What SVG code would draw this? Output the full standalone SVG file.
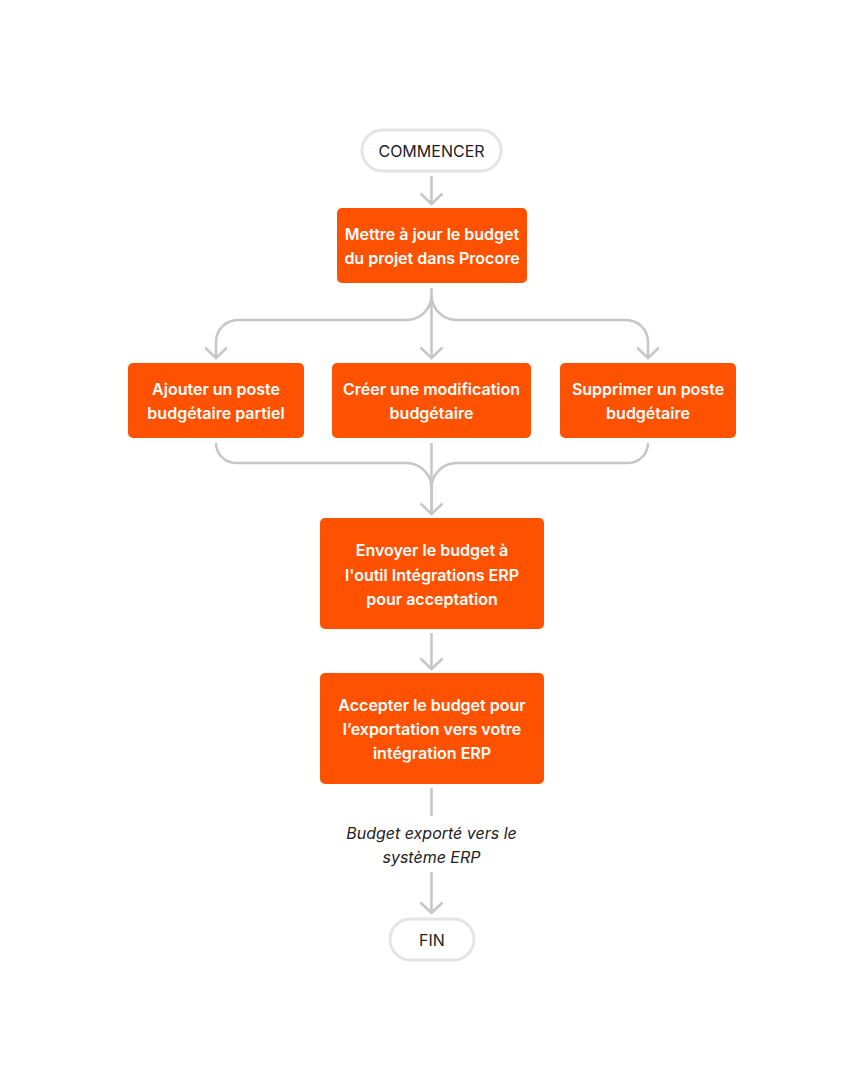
<svg xmlns="http://www.w3.org/2000/svg" width="864" height="1091" viewBox="0 0 864 1091">
<defs>
<style>
.box{fill:#FF5200;}
.pill{fill:#fff;stroke:#e4e4e4;stroke-width:3;}
.wt{fill:#fff;font-family:Inter,"Liberation Sans",sans-serif;font-weight:600;font-size:16px;text-anchor:middle;dominant-baseline:central;}
.dt{fill:#222;font-family:Inter,"Liberation Sans",sans-serif;font-size:16px;text-anchor:middle;dominant-baseline:central;}
.it{fill:#222;font-family:Inter,"Liberation Sans",sans-serif;font-style:italic;font-size:16px;text-anchor:middle;dominant-baseline:central;}
.c{fill:none;stroke:#c6c6c6;stroke-width:2.5;}
</style>
<marker id="ah" markerUnits="userSpaceOnUse" markerWidth="14" markerHeight="26" viewBox="0 0 14 26" refX="12" refY="13" orient="auto">
<path d="M1.5,2 L12,13 L1.5,24" fill="none" stroke="#c6c6c6" stroke-width="2.5"/>
</marker>
</defs>
<rect width="864" height="1091" fill="#fff"/>
<g id="connectors">
<path class="c" d="M431.5 176 V204" marker-end="url(#ah)"/>
<path class="c" d="M431.5 288 V358" marker-end="url(#ah)"/>
<path class="c" d="M431.5 295 A25 25 0 0 1 406.5 320 H238 A22 22 0 0 0 216 342 V358" marker-end="url(#ah)"/>
<path class="c" d="M431.5 295 A25 25 0 0 0 456.5 320 H626 A22 22 0 0 1 648 342 V358" marker-end="url(#ah)"/>
<path class="c" d="M216 443 A20 20 0 0 0 236 463 H406.5 A25 25 0 0 1 431.5 488 V514" marker-end="url(#ah)"/>
<path class="c" d="M648 443 A20 20 0 0 1 628 463 H456.5 A25 25 0 0 0 431.5 488"/>
<path class="c" d="M431.5 443 V514"/>
<path class="c" d="M431.5 633 V669" marker-end="url(#ah)"/>
<path class="c" d="M431.5 788 V816"/>
<path class="c" d="M431.5 872 V913" marker-end="url(#ah)"/>
<text class="it" x="431.5" y="833">Budget exporté vers le</text>
<text class="it" x="431.5" y="857">système ERP</text>
</g>
<g id="start">
<rect class="pill" x="362" y="130" width="139" height="41" rx="20.5"/>
<text class="dt" x="431.5" y="151">COMMENCER</text>
</g>
<g id="n1">
<rect class="box" x="337" y="208" width="190" height="75" rx="5"/>
<text class="wt" x="432" y="234">Mettre à jour le budget</text>
<text class="wt" x="432" y="258">du projet dans Procore</text>
</g>
<g id="n2">
<rect class="box" x="128" y="363" width="176" height="75" rx="5"/>
<text class="wt" x="216" y="389">Ajouter un poste</text>
<text class="wt" x="216" y="413">budgétaire partiel</text>
</g>
<g id="n3">
<rect class="box" x="332" y="363" width="199" height="75" rx="5"/>
<text class="wt" x="431.5" y="389">Créer une modification</text>
<text class="wt" x="431.5" y="413">budgétaire</text>
</g>
<g id="n4">
<rect class="box" x="560" y="363" width="176" height="75" rx="5"/>
<text class="wt" x="648" y="389">Supprimer un poste</text>
<text class="wt" x="648" y="413">budgétaire</text>
</g>
<g id="n5">
<rect class="box" x="320" y="518" width="224" height="111" rx="5"/>
<text class="wt" x="432" y="550">Envoyer le budget à</text>
<text class="wt" x="432" y="575">l'outil Intégrations ERP</text>
<text class="wt" x="432" y="599">pour acceptation</text>
</g>
<g id="n6">
<rect class="box" x="320" y="673" width="224" height="111" rx="5"/>
<text class="wt" x="432" y="705">Accepter le budget pour</text>
<text class="wt" x="432" y="729">l’exportation vers votre</text>
<text class="wt" x="432" y="753">intégration ERP</text>
</g>
<g id="end">
<rect class="pill" x="390" y="919" width="84" height="41" rx="20.5"/>
<text class="dt" x="432" y="940">FIN</text>
</g>
</svg>
